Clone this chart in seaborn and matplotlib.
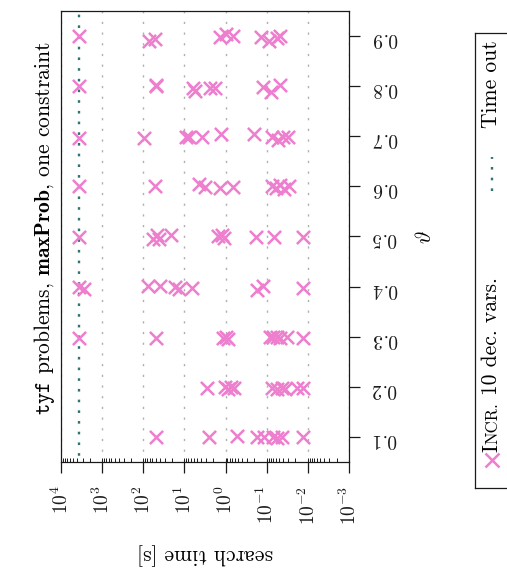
import numpy as np
import pandas as pd
import matplotlib
matplotlib.use("Agg")
import matplotlib.pyplot as plt
import seaborn as sns
from matplotlib.ticker import LogLocator, NullFormatter, FixedLocator

# ---- data -------------------------------------------------------------
theta_ticks = [0.1, 0.2, 0.3, 0.4, 0.5, 0.6, 0.7, 0.8, 0.9]
theta_labels = ["0.1", "0.2", "0.3", "0.4", "0.5", "0.6", "0.7", "0.8", "0.9"]

# search time [s] of each instance (INCR., 10 decision variables)
search_time = [
    # theta = 0.9
    3600, 72, 52, 1.37, 1.0, 0.65, 0.135, 0.0865, 0.057, 0.0475,
    # theta = 0.8
    3600, 50, 48, 6.1, 5.6, 2.4, 1.8, 0.126, 0.080, 0.0475,
    # theta = 0.7
    3600, 97, 9.2, 7.6, 3.8, 1.32, 0.20, 0.076, 0.052, 0.041, 0.030,
    # theta = 0.6
    3600, 52, 4.4, 3.2, 1.37, 0.675, 0.076, 0.060, 0.0475, 0.038, 0.028,
    # theta = 0.5
    3600, 57, 47.6, 41, 21.7, 1.5, 1.25, 1.10, 0.182, 0.0666, 0.0134,
    # theta = 0.4
    3600, 2790, 76, 39.5, 17.1, 13.6, 6.5, 0.176, 0.121, 0.0134,
    # theta = 0.3
    3600, 49.5, 1.18, 1.0, 0.86, 0.083, 0.069, 0.057, 0.0475, 0.0327, 0.0129,
    # theta = 0.2
    2.8, 1.04, 0.86, 0.755, 0.625, 0.076, 0.057, 0.0434, 0.036, 0.0187, 0.0129,
    # theta = 0.1
    49.5, 2.5, 0.52, 0.176, 0.117, 0.069, 0.057, 0.0434, 0.0134,
]

# theta of each instance (slightly jittered around its level)
theta = [
    0.901, 0.890, 0.894, 0.899, 0.904, 0.900, 0.899, 0.890, 0.897, 0.901,
    0.800, 0.800, 0.803, 0.797, 0.791, 0.797, 0.797, 0.799, 0.789, 0.803,
    0.697, 0.696, 0.699, 0.698, 0.698, 0.705, 0.704, 0.699, 0.693, 0.699, 0.699,
    0.601, 0.601, 0.604, 0.598, 0.596, 0.598, 0.600, 0.596, 0.602, 0.595, 0.601,
    0.499, 0.496, 0.502, 0.495, 0.503, 0.500, 0.503, 0.498, 0.499, 0.499, 0.499,
    0.400, 0.396, 0.401, 0.402, 0.399, 0.396, 0.397, 0.394, 0.401, 0.397,
    0.297, 0.298, 0.298, 0.300, 0.296, 0.300, 0.299, 0.300, 0.298, 0.299, 0.298,
    0.198, 0.200, 0.196, 0.199, 0.197, 0.197, 0.195, 0.198, 0.196, 0.198, 0.197,
    0.099, 0.100, 0.101, 0.099, 0.100, 0.099, 0.097, 0.100, 0.100,
]

TIMEOUT = 3600  # seconds

series_label = "Incr. 10 dec. vars."
timeout_label = "Time out"

# ---- style ------------------------------------------------------------
PINK = "#ee7fce"
TEAL = "#2f7574"
GRID = "#b0b0b0"
FS = 15.5
TICK_FS = 14
TIMEOUT_DASH = (1.9, 5.8)

sns.set_theme(style="ticks")
plt.rcParams.update({
    "font.family": ["cmr10"],
    "mathtext.fontset": "cm",
    "axes.formatter.use_mathtext": True,
    "lines.scale_dashes": False,
    "axes.edgecolor": "#1a1a1a",
    "axes.linewidth": 0.9,
    "text.color": "black",
    "xtick.color": "#1a1a1a",
    "ytick.color": "#1a1a1a",
})

W, H = 507, 571
fig = plt.figure(figsize=(W / 100, H / 100), dpi=100)

# main axes, placed in pixel units
x0, x1, ytop, ybot = 61, 349, 11, 462
ax = fig.add_axes([x0 / W, (H - ybot) / H, (x1 - x0) / W, (ybot - ytop) / H])

df = pd.DataFrame({"search_time": search_time, "theta": theta})

ax.set_xscale("log")
ax.set_xlim(1e4, 1e-3)
ax.set_ylim(0.05, 0.95)

ax.grid(axis="x", which="major", color=GRID, lw=1.0,
        linestyle=(0, (1.6, 6.1)), zorder=0)

ax.axvline(TIMEOUT, color=TEAL, lw=1.7, linestyle=(3.2, TIMEOUT_DASH), zorder=1)

sns.scatterplot(data=df, x="search_time", y="theta", ax=ax, marker="x",
                color=PINK, s=90, linewidth=1.8, legend=False, zorder=3)

ax.set_xlabel("")
ax.set_ylabel("")

# x axis: time, log scale, ticks at the bottom only
ax.xaxis.set_major_locator(LogLocator(base=10, numticks=20))
ax.xaxis.set_minor_locator(LogLocator(base=10, subs=np.arange(1, 10), numticks=100))
ax.xaxis.set_minor_formatter(NullFormatter())
ax.xaxis.remove_overlapping_locs = False
ax.tick_params(axis="x", which="major", direction="out", length=8, width=0.9,
               bottom=True, top=False, labelsize=TICK_FS, labelrotation=90, pad=9)
ax.tick_params(axis="x", which="minor", direction="in", length=3, width=0.7,
               bottom=True, top=False)

# y axis: theta, ticks on the right
ax.yaxis.set_major_locator(FixedLocator(theta_ticks))
ax.set_yticklabels([rf"$\mathit{{{s}}}$" for s in theta_labels])
ax.tick_params(axis="y", which="major", direction="out", length=8, width=0.9,
               left=False, right=True, labelleft=False, labelright=True,
               labelsize=TICK_FS, labelrotation=180, pad=9)
ax.tick_params(axis="y", which="minor", left=False, right=False)

for s in ax.spines.values():
    s.set_visible(True)

# axis titles and plot title
fig.text(205 / W, 1 - 554 / H, "search time [s]", rotation=180,
         ha="center", va="center", fontsize=FS)
fig.text(425 / W, 1 - 237 / H, r"$\vartheta$", rotation=90,
         ha="center", va="center", fontsize=FS)
fig.text(45 / W, 1 - 228 / H,
         r"$\mathtt{tyf}$ problems, $\mathbf{maxProb}$, one constraint",
         rotation=90, ha="center", va="center", fontsize=FS)

# ---- legend (vertical box on the right) -------------------------------
lx0, lx1, lytop, lybot = 475, 520, 33, 488
lax = fig.add_axes([lx0 / W, (H - lybot) / H, (lx1 - lx0) / W, (lybot - lytop) / H])
lax.set_xlim(lx0, lx1)
lax.set_ylim(H - lybot, H - lytop)
lax.set_xticks([])
lax.set_yticks([])
for s in lax.spines.values():
    s.set_color("#1a1a1a")
    s.set_linewidth(0.9)
lax.set_facecolor("white")

lax.plot([492], [H - 460], marker="x", color=PINK, ms=9.5, mew=1.8, ls="none")
lax.plot([492, 492], [H - 191, H - 157], color=TEAL, lw=1.7,
         linestyle=(0.0, TIMEOUT_DASH))

renderer = fig.canvas.get_renderer()


def run_text(x, y, pieces):
    """Write text pieces one after another upwards (rotated 90 deg)."""
    for txt, size, gap in pieces:
        y += gap
        t = lax.text(x, y, txt, rotation=90, rotation_mode="anchor",
                     ha="left", va="baseline", fontsize=size)
        bb = t.get_window_extent(renderer)
        y += bb.height


space = 0.333 * FS * 100 / 72
run_text(497, H - 452, [
    (series_label[0], FS, 0),
    (series_label[1:5].upper(), FS * 0.78, 0.5),
    (series_label[6:], FS, space),
])
run_text(497, H - 128, [(timeout_label, FS, 0)])

fig.savefig("out.png", dpi=100)
